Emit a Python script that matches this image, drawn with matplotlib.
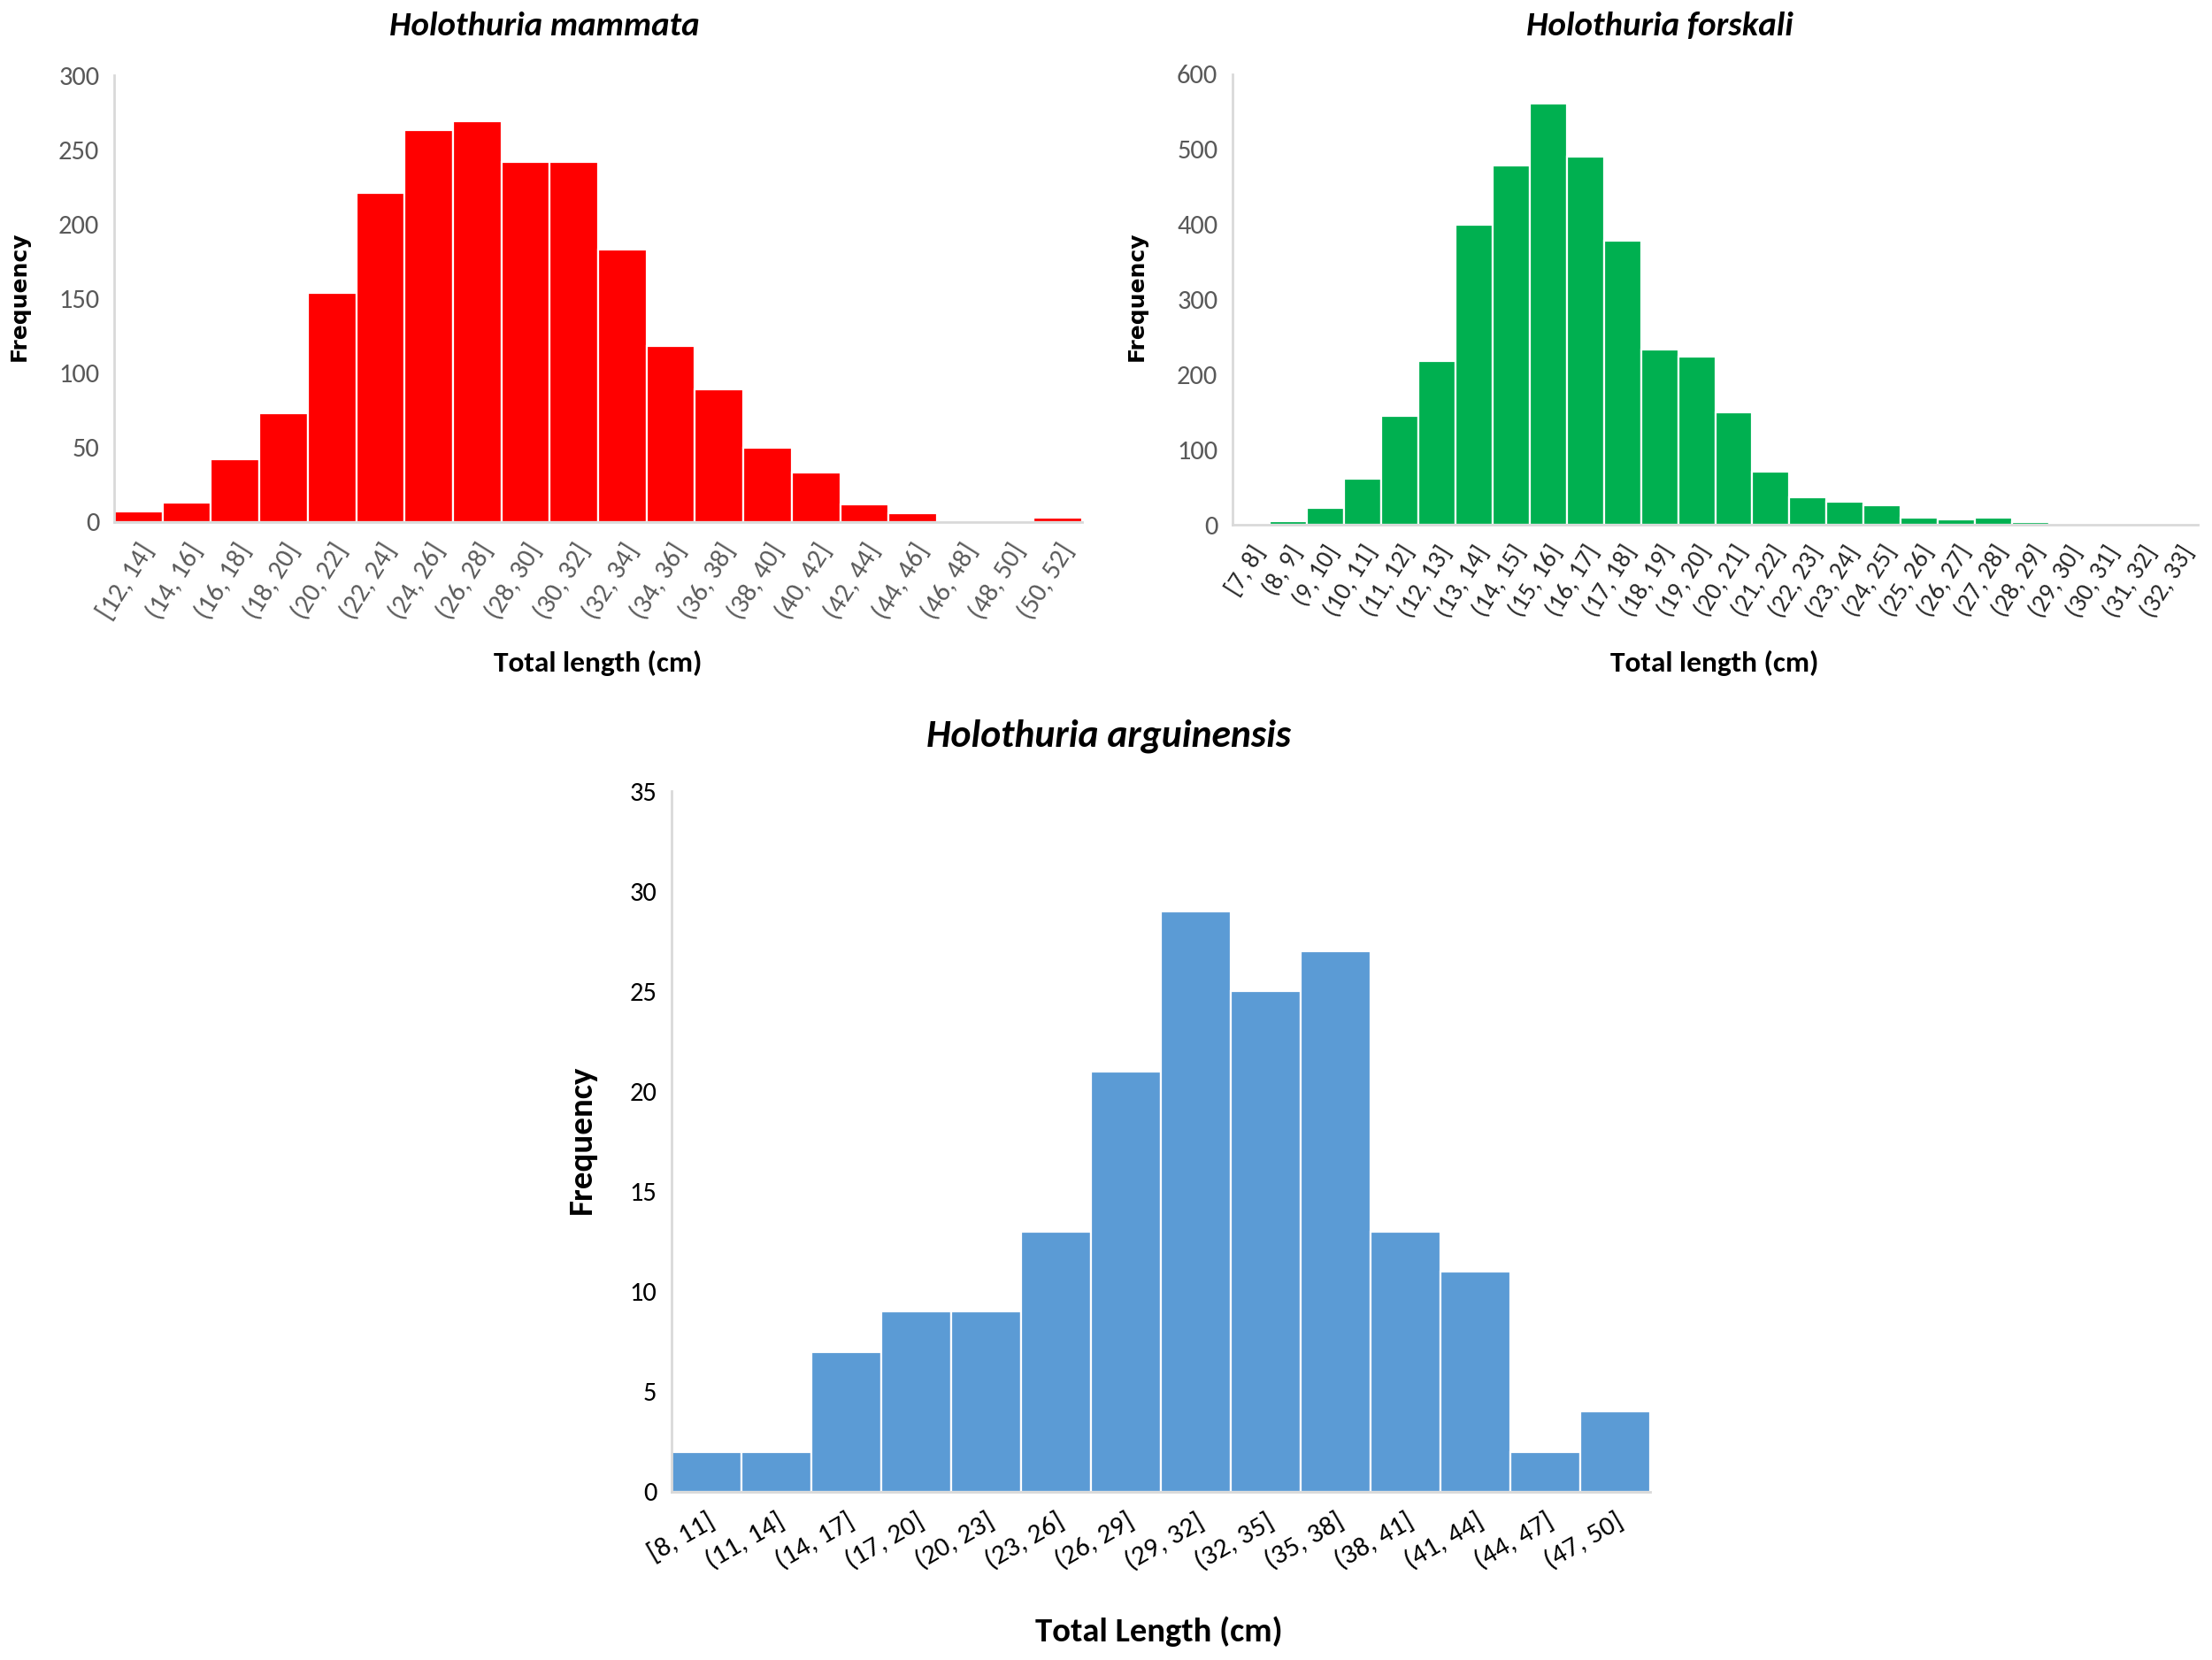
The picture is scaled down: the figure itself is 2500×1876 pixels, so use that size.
import matplotlib
matplotlib.use("Agg")
import matplotlib.pyplot as plt
from matplotlib import font_manager
import numpy as np

# pick a Calibri-like face if one is around
available = {f.name for f in font_manager.fontManager.ttflist}
FONT = next(f for f in ["Carlito", "Lato", "Open Sans", "DejaVu Sans"] if f in available)
plt.rcParams['font.family'] = [FONT, 'DejaVu Sans']

# Holothuria mammata
mammata_bins = ["[12, 14]", "(14, 16]", "(16, 18]", "(18, 20]", "(20, 22]", "(22, 24]",
                "(24, 26]", "(26, 28]", "(28, 30]", "(30, 32]", "(32, 34]", "(34, 36]",
                "(36, 38]", "(38, 40]", "(40, 42]", "(42, 44]", "(44, 46]", "(46, 48]",
                "(48, 50]", "(50, 52]"]
mammata_freq = [7, 13, 42, 73, 154, 221, 263, 269, 242, 242, 183, 118, 89, 50, 33, 12, 6, 0, 0, 3]

# Holothuria forskali
forskali_bins = ["[7, 8]", "(8, 9]", "(9, 10]", "(10, 11]", "(11, 12]", "(12, 13]", "(13, 14]",
                 "(14, 15]", "(15, 16]", "(16, 17]", "(17, 18]", "(18, 19]", "(19, 20]",
                 "(20, 21]", "(21, 22]", "(22, 23]", "(23, 24]", "(24, 25]", "(25, 26]",
                 "(26, 27]", "(27, 28]", "(28, 29]", "(29, 30]", "(30, 31]", "(31, 32]",
                 "(32, 33]"]
forskali_freq = [2, 5, 22, 61, 145, 218, 400, 479, 561, 490, 378, 233, 224, 150, 71, 37,
                 31, 26, 10, 7, 9, 4, 2, 0, 2, 0]

# Holothuria arguinensis
arguinensis_bins = ["[8, 11]", "(11, 14]", "(14, 17]", "(17, 20]", "(20, 23]", "(23, 26]",
                    "(26, 29]", "(29, 32]", "(32, 35]", "(35, 38]", "(38, 41]", "(41, 44]",
                    "(44, 47]", "(47, 50]"]
arguinensis_freq = [2, 2, 7, 9, 9, 13, 21, 29, 25, 27, 13, 11, 2, 4]

W, H = 2500, 1876
fig = plt.figure(figsize=(W / 200, H / 200), dpi=200)


def hist_panel(rect, bins, freq, color, ymax, ystep, rot, xt_size, yt_size, xt_color, yt_color):
    ax = fig.add_axes(rect)
    x = np.arange(len(bins))
    ax.bar(x, freq, width=1.0, color=color, edgecolor='white', linewidth=0.8)
    ax.set_xlim(-0.5, len(bins) - 0.5)
    ax.set_ylim(0, ymax)
    ax.set_yticks(np.arange(0, ymax + 1, ystep))
    ax.set_xticks(x)
    ax.set_xticklabels(bins, rotation=rot, ha='right', rotation_mode='anchor',
                       fontsize=xt_size, color=xt_color)
    ax.tick_params(axis='x', length=0, pad=7)
    ax.tick_params(axis='y', length=0, pad=6, labelsize=yt_size, labelcolor=yt_color)
    for s in ['top', 'right']:
        ax.spines[s].set_visible(False)
    for s in ['left', 'bottom']:
        ax.spines[s].set_color('#d9d9d9')
        ax.spines[s].set_linewidth(1.0)
    return ax


hist_panel([129 / W, 1 - 590 / H, 1094 / W, 505 / H], mammata_bins, mammata_freq,
           '#ff0000', 300, 50, 58, 11.0, 11.0, '#595959', '#595959')
hist_panel([1393 / W, 1 - 593 / H, 1091 / W, 509 / H], forskali_bins, forskali_freq,
           '#00b050', 600, 100, 58, 10.4, 11.0, '#262626', '#595959')
hist_panel([759 / W, 1 - 1686 / H, 1106 / W, 792 / H], arguinensis_bins, arguinensis_freq,
           '#5b9bd5', 35, 5, 30, 11.3, 11.0, '#000000', '#000000')

# titles
title_kw = dict(fontsize=14, fontweight='bold', fontstyle='italic', ha='center', va='center')
fig.text(615 / W, 1 - 29 / H, "Holothuria mammata", **title_kw)
fig.text(1876 / W, 1 - 29 / H, "Holothuria forskali", **title_kw)
fig.text(1253 / W, 1 - 832 / H, "Holothuria arguinensis", fontsize=15.7, fontweight='bold',
         fontstyle='italic', ha='center', va='center')

# axis labels
fig.text(676 / W, 1 - 749 / H, "Total length (cm)", fontsize=12, fontweight='bold',
         ha='center', va='center')
fig.text(1938 / W, 1 - 749 / H, "Total length (cm)", fontsize=12, fontweight='bold',
         ha='center', va='center')
fig.text(1310 / W, 1 - 1844 / H, "Total Length (cm)", fontsize=13.9, fontweight='bold',
         ha='center', va='center')

fig.text(22 / W, 1 - 335 / H, "Frequency", fontsize=9, fontweight='bold', rotation=90,
         ha='center', va='center', family='DejaVu Sans')
fig.text(1285 / W, 1 - 335 / H, "Frequency", fontsize=9, fontweight='bold', rotation=90,
         ha='center', va='center', family='DejaVu Sans')
fig.text(657 / W, 1 - 1288 / H, "Frequency", fontsize=14, fontweight='bold', rotation=90,
         ha='center', va='center')

fig.savefig("out.png", dpi=200, facecolor='white')
